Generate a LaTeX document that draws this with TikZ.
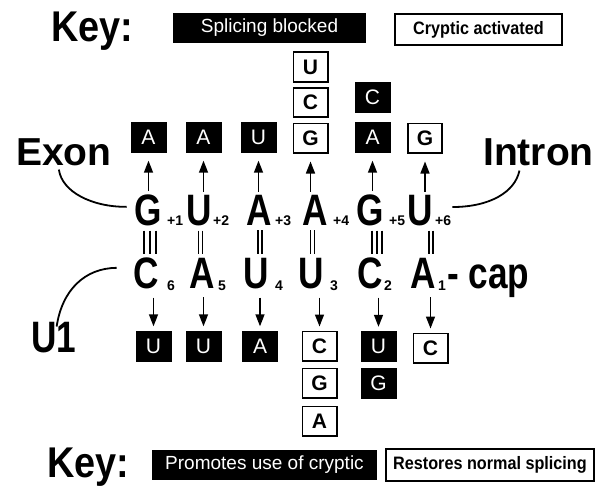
\documentclass[tikz,border=0pt]{standalone}
\usepackage{fontspec}
\setmainfont{Liberation Sans}
\newfontfamily\keyfont[FakeStretch=0.9]{Liberation Sans}
\usetikzlibrary{arrows.meta}
\newcommand\pairlines[3]{%
  \foreach \d in {#3}
    \draw[pairline] ([xshift=\d pt]#1.south) -- ([xshift=\d pt]#1.south |- #2.north);}
\begin{document}
\begin{tikzpicture}[x=1pt,y=-1pt,
  bigl/.style={font=\bfseries\fontsize{44}{44}\selectfont, inner sep=0pt, anchor=base, xscale=0.8},
  subl/.style={font=\bfseries\fontsize{14}{14}\selectfont, inner sep=0pt, anchor=base west},
  label/.style={font=\bfseries\fontsize{39}{39}\selectfont, inner sep=0pt, anchor=base west},
  keylabel/.style={font=\bfseries\fontsize{43}{43}\selectfont, inner sep=0pt, anchor=base west, xscale=0.88},
  blkbox/.style={fill=black, text=white, minimum width=36pt, minimum height=31pt,
    inner sep=0pt, font=\fontsize{21}{21}\selectfont},
  whtbox/.style={draw=black, line width=1.6pt, fill=white, minimum width=34.4pt,
    minimum height=29.4pt, inner sep=0pt, font=\bfseries\fontsize{21}{21}\selectfont},
  keyblack/.style={fill=black, text=white, inner sep=0pt, font=\fontsize{19}{19}\selectfont},
  keywhite/.style={draw=black, line width=1.6pt, fill=white, inner sep=0pt,
    font=\keyfont\bfseries\fontsize{18}{18}\selectfont},
  arr/.style={line width=1.5pt, -{Triangle[length=12pt,width=9pt]}},
  pairline/.style={line width=1.3pt, shorten <=5pt, shorten >=3.5pt},
  link/.style={line width=1.8pt}]
\useasboundingbox (0,0) rectangle (610,495);

% keys
\node[keylabel] (keytop) at (51,42) {Key:};
\node[keyblack, minimum width=193pt, minimum height=30pt] (kblocked) at (269.5,28) {Splicing blocked};
\node[keywhite, minimum width=167pt, minimum height=31pt] (kcryptic) at (478.5,29.5) {Cryptic activated};
\node[keylabel] (keybot) at (47,477) {Key:};
\node[keyblack, minimum width=225pt, minimum height=30pt] (kpromote) at (264.5,465) {Promotes use of cryptic};
\node[keywhite, minimum width=208pt, minimum height=32pt] (krestore) at (490,465) {Restores normal splicing};

% side labels
\node[label] (exon) at (16,165) {Exon};
\node[label] (intron) at (483,165) {Intron};
\node[bigl, anchor=base west] (uone) at (31,352) {U1};

% 5' splice site (top row)
\node[bigl] (g1) at (148.5,225) {G};
\node[bigl] (u2) at (199,225) {U};
\node[bigl] (a3) at (259,225) {A};
\node[bigl] (a4) at (315,225) {A};
\node[bigl] (g5) at (370,225) {G};
\node[bigl] (u6) at (420,225) {U};
\node[subl] (p1) at (167,225) {+1};
\node[subl] (p2) at (213,225) {+2};
\node[subl] (p3) at (275,225) {+3};
\node[subl] (p4) at (333,225) {+4};
\node[subl] (p5) at (389,225) {+5};
\node[subl] (p6) at (435,225) {+6};

% U1 snRNA (bottom row)
\node[bigl] (c6) at (146.5,288) {C};
\node[bigl] (a5) at (202.5,288) {A};
\node[bigl] (u4) at (256.5,288) {U};
\node[bigl] (u3) at (311,288) {U};
\node[bigl] (c2) at (370,288) {C};
\node[bigl] (a1) at (423.5,288) {A};
\node[subl] (q6) at (167,290) {6};
\node[subl] (q5) at (218,290) {5};
\node[subl] (q4) at (275,290) {4};
\node[subl] (q3) at (330,290) {3};
\node[subl] (q2) at (384,290) {2};
\node[subl] (q1) at (438,290) {1};
\node[bigl, anchor=base west] (cap) at (447,288) {-\hspace{12pt}cap};

% base pairing
\pairlines{g1}{c6}{-4.5,1.5,7.5}
\pairlines{u2}{a5}{-0.5,3.5}
\pairlines{a3}{u4}{-1,3}
\pairlines{a4}{u3}{-4.5,-0.5}
\pairlines{g5}{c2}{2,7,12}
\pairlines{u6}{a1}{9,13}

% mutations of the splice site
\node[blkbox] (t1) at (148.5,137) {A};
\node[blkbox] (t2) at (203.5,137) {A};
\node[blkbox] (t3) at (258.5,137) {U};
\node[whtbox] (t4) at (310.5,138) {G};
\node[whtbox] (t4b) at (310.5,102.5) {C};
\node[whtbox] (t4c) at (310.5,67) {U};
\node[blkbox] (t5) at (372.5,137) {A};
\node[blkbox] (t5b) at (372.5,97) {C};
\node[whtbox] (t6) at (425,138) {G};

% compensating changes in U1
\node[blkbox] (b1) at (153.5,346) {U};
\node[blkbox] (b2) at (203.5,346) {U};
\node[blkbox] (b3) at (260,346) {A};
\node[whtbox] (b4) at (319.5,346) {C};
\node[whtbox] (b4b) at (319.5,383) {G};
\node[whtbox] (b4c) at (319.5,421) {A};
\node[blkbox] (b5) at (378.5,346.5) {U};
\node[blkbox] (b5b) at (378.5,383) {G};
\node[whtbox] (b6) at (430.5,348) {C};

% arrows
\foreach \l/\b in {g1/t1,u2/t2,a3/t3,a4/t4,g5/t5,u6/t6}
  \draw[arr, shorten <=3pt, shorten >=8pt] (\b.south |- \l.north) -- (\b.south);
\foreach \l/\b in {c6/b1,a5/b2,u4/b3,u3/b4,c2/b5,a1/b6}
  \draw[arr, shorten <=9pt, shorten >=4pt] (\b.north |- \l.south) -- (\b.north);

% leader curves
\draw[link] ([xshift=-5pt,yshift=-4pt]exon.south) .. controls (62,192) and (92,207) .. ([xshift=-8pt,yshift=3pt]g1.west);
\draw[link] ([xshift=-19pt,yshift=-5pt]intron.south) .. controls (515,192) and (490,207) .. ([xshift=1pt,yshift=8pt]p6.north east);
\draw[link] ([xshift=3pt,yshift=-5pt]uone.north) .. controls (62,290) and (85,268) .. ([xshift=-17pt,yshift=5pt]c6.west);
\end{tikzpicture}
\end{document}
